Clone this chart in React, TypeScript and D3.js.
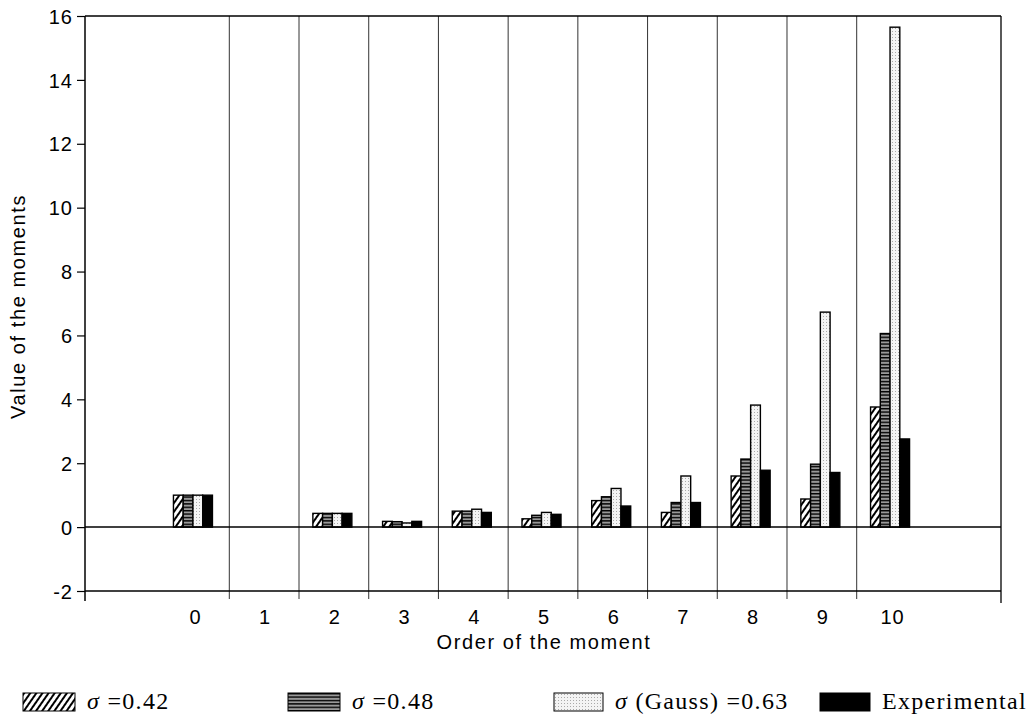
import React, { useRef, useEffect } from "react";
import * as d3 from "d3";

// moment order on the x axis
const orders = ["0", "1", "2", "3", "4", "5", "6", "7", "8", "9", "10"];
// values
const sigma042 = [1.0, 0, 0.43, 0.18, 0.5, 0.26, 0.83, 0.46, 1.6, 0.88, 3.76];
const sigma048 = [1.0, 0, 0.43, 0.17, 0.5, 0.37, 0.95, 0.77, 2.13, 1.97, 6.06];
const gauss063 = [1.0, 0, 0.43, 0.13, 0.56, 0.46, 1.21, 1.6, 3.82, 6.73, 15.65];
const experimental = [1.0, 0, 0.43, 0.18, 0.46, 0.4, 0.66, 0.77, 1.78, 1.71, 2.76];
const yTicks = [-2, 0, 2, 4, 6, 8, 10, 12, 14, 16];

const seriesNames = ["s042", "s048", "gauss", "exp"];
const legendLabels = ["=0.42", "=0.48", "(Gauss) =0.63", "Experimental"];

const sans = "Liberation Sans, Arial, sans-serif";
const serif = "Liberation Serif, Times New Roman, serif";

const App = () => {
  const svgRef = useRef<SVGSVGElement>(null);

  useEffect(() => {
    const w = 1034;
    const h = 723;
    const margin = { top: 16, right: 33, bottom: 132, left: 85 };
    const svg = d3.select(svgRef.current).attr("width", w).attr("height", h);
    svg.selectAll("*").remove();

    const defs = svg.append("defs");
    // diagonal hatch
    const p1 = defs
      .append("pattern")
      .attr("id", "hatch")
      .attr("patternUnits", "userSpaceOnUse")
      .attr("width", 5)
      .attr("height", 5)
      .attr("patternTransform", "rotate(35)");
    p1.append("rect").attr("width", 5).attr("height", 5).attr("fill", "#fff");
    p1.append("line").attr("x1", 1).attr("x2", 1).attr("y1", 0).attr("y2", 5)
      .attr("stroke", "#000").attr("stroke-width", 2);
    // horizontal stripes
    const p2 = defs
      .append("pattern")
      .attr("id", "hstripe")
      .attr("patternUnits", "userSpaceOnUse")
      .attr("width", 4)
      .attr("height", 3.4);
    p2.append("rect").attr("width", 4).attr("height", 3.4).attr("fill", "#999");
    p2.append("rect").attr("width", 4).attr("height", 1.4).attr("fill", "#000");
    // stipple
    const p3 = defs
      .append("pattern")
      .attr("id", "stipple")
      .attr("patternUnits", "userSpaceOnUse")
      .attr("width", 3)
      .attr("height", 3);
    p3.append("rect").attr("width", 3).attr("height", 3).attr("fill", "#f4f4f4");
    p3.append("rect").attr("x", 1).attr("y", 1).attr("width", 1).attr("height", 1).attr("fill", "#aaa");

    const fills = ["url(#hatch)", "url(#hstripe)", "url(#stipple)", "#000"];

    const x0 = d3
      .scaleBand()
      .domain(orders)
      .range([margin.left, w - margin.right])
      .paddingInner(0)
      .paddingOuter(1.07);

    const x1 = d3
      .scaleBand()
      .domain(seriesNames)
      .range([-21, 18])
      .padding(0);

    const y = d3
      .scaleLinear()
      .domain([-2, 16])
      .range([h - margin.bottom, margin.top]);

    const left = margin.left;
    const right = w - margin.right;
    const top = y(16);
    const bottom = y(-2);

    // vertical grid lines between categories
    const gridXs = orders.slice(0, -1).map((o) => x0(o)! + x0.bandwidth());
    svg
      .append("g")
      .selectAll("line")
      .data(gridXs)
      .enter()
      .append("line")
      .attr("x1", (d) => d)
      .attr("x2", (d) => d)
      .attr("y1", top)
      .attr("y2", bottom + 8)
      .attr("stroke", "#333")
      .attr("stroke-width", 1);

    // frame
    svg.append("line").attr("x1", left).attr("x2", right).attr("y1", top).attr("y2", top)
      .attr("stroke", "#000").attr("stroke-width", 1.3);
    svg.append("line").attr("x1", right).attr("x2", right).attr("y1", top).attr("y2", bottom + 12)
      .attr("stroke", "#000").attr("stroke-width", 1.3);
    svg.append("line").attr("x1", left).attr("x2", left).attr("y1", top).attr("y2", bottom + 10)
      .attr("stroke", "#000").attr("stroke-width", 1.5);
    svg.append("line").attr("x1", left).attr("x2", right).attr("y1", bottom).attr("y2", bottom)
      .attr("stroke", "#000").attr("stroke-width", 1.3);

    // bars
    const allSeries = [sigma042, sigma048, gauss063, experimental];
    const rows = orders.flatMap((o, i) =>
      seriesNames.map((s, j) => ({ order: o, key: s, j, value: allSeries[j][i] }))
    );
    svg
      .append("g")
      .selectAll("rect")
      .data(rows.filter((d) => d.value > 0))
      .enter()
      .append("rect")
      .attr("x", (d) => x0(d.order)! + x0.bandwidth() / 2 + x1(d.key)!)
      .attr("y", (d) => y(d.value))
      .attr("width", x1.bandwidth())
      .attr("height", (d) => y(0) - y(d.value))
      .attr("fill", (d) => fills[d.j])
      .attr("stroke", "#000")
      .attr("stroke-width", 1.4);

    // zero line
    svg.append("line").attr("x1", left).attr("x2", right).attr("y1", y(0)).attr("y2", y(0))
      .attr("stroke", "#000").attr("stroke-width", 1.5);

    // y axis
    const yAxis = d3.axisLeft(y).tickValues(yTicks).tickSize(8).tickFormat((d) => String(d));
    const gy = svg.append("g").attr("transform", `translate(${left},0)`).call(yAxis);
    gy.select(".domain").remove();
    gy.selectAll(".tick line").attr("stroke", "#000").attr("stroke-width", 1.2);
    gy.selectAll(".tick text")
      .attr("font-family", sans)
      .attr("font-size", "20px")
      .attr("letter-spacing", "1px")
      .attr("fill", "#000")
      .attr("x", -12)
      .attr("dy", "0.36em");

    // x tick labels
    svg
      .append("g")
      .selectAll("text")
      .data(orders)
      .enter()
      .append("text")
      .attr("x", (d) => x0(d)! + x0.bandwidth() / 2 + 1)
      .attr("y", bottom + 33)
      .attr("text-anchor", "middle")
      .attr("font-family", sans)
      .attr("font-size", "20px")
      .attr("letter-spacing", "1px")
      .text((d) => d);

    // axis titles
    svg.append("text")
      .attr("x", (left + right) / 2 + 1)
      .attr("y", bottom + 58)
      .attr("text-anchor", "middle")
      .attr("font-family", sans)
      .attr("font-size", "20px")
      .attr("letter-spacing", "1.6px")
      .text("Order of the moment");
    svg.append("text")
      .attr("transform", `translate(25,${(top + bottom) / 2 + 3}) rotate(-90)`)
      .attr("text-anchor", "middle")
      .attr("font-family", sans)
      .attr("font-size", "20px")
      .attr("letter-spacing", "1.6px")
      .text("Value of the moments");

    // legend
    const legendX = [23, 288, 554, 820];
    const boxW = [52, 52, 49, 50];
    const lg = svg
      .append("g")
      .selectAll("g")
      .data(legendLabels)
      .enter()
      .append("g")
      .attr("transform", (_, i) => `translate(${legendX[i]},693)`);
    lg.append("rect")
      .attr("width", (_, i) => boxW[i])
      .attr("height", 18)
      .attr("fill", (_, i) => fills[i])
      .attr("stroke", "#000")
      .attr("stroke-width", 1);
    const lt = lg.append("text")
      .attr("x", (_, i) => boxW[i] + 12)
      .attr("y", 16)
      .attr("font-family", serif)
      .attr("font-size", "24px")
      .attr("letter-spacing", "1.3px");
    lt.filter((_, i) => i < 3)
      .append("tspan")
      .attr("font-style", "italic")
      .text("σ");
    lt.append("tspan")
      .text((d, i) => (i < 3 ? " " + d : d));
  }, []);

  return (
    <div style={{ position: "absolute", left: 0, top: 0 }}>
      <svg ref={svgRef}></svg>
    </div>
  );
};

export default App;
